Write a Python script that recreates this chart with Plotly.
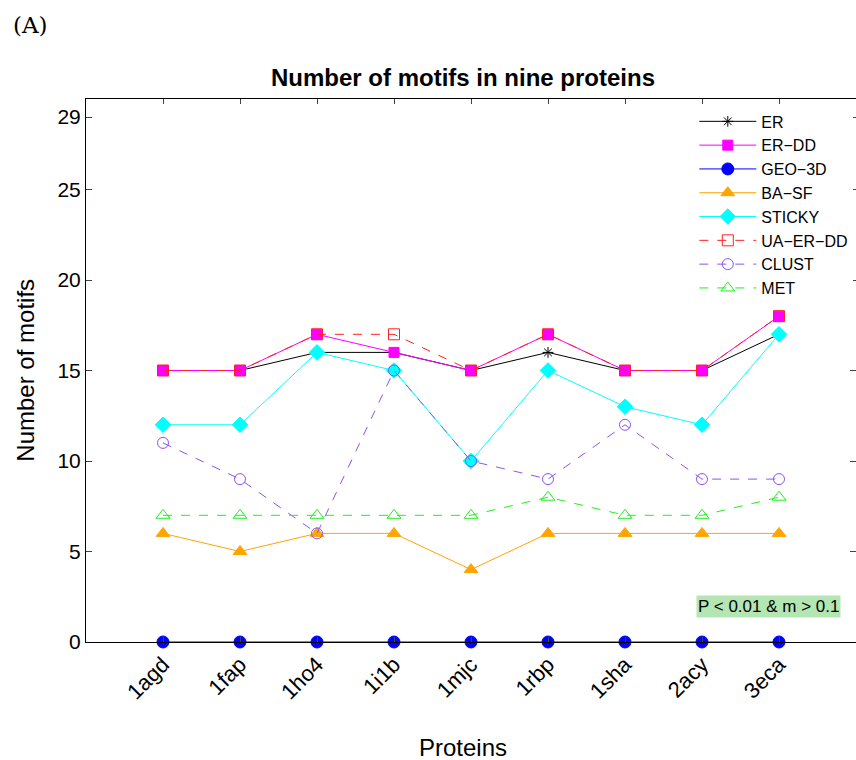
import plotly.graph_objects as go

proteins = ["1agd", "1fap", "1ho4", "1i1b", "1mjc", "1rbp", "1sha", "2acy", "3eca"]
er = [15, 15, 16, 16, 15, 16, 15, 15, 17]
er_dd = [15, 15, 17, 16, 15, 17, 15, 15, 18]
geo_3d = [0, 0, 0, 0, 0, 0, 0, 0, 0]
ba_sf = [6, 5, 6, 6, 4, 6, 6, 6, 6]
sticky = [12, 12, 16, 15, 10, 15, 13, 12, 17]
ua_er_dd = [15, 15, 17, 17, 15, 17, 15, 15, 18]
clust = [11, 9, 6, 15, 10, 9, 12, 9, 9]
met = [7, 7, 7, 7, 7, 8, 7, 7, 8]
y_ticks = [0, 5, 10, 15, 20, 25, 29]

series = [
    ("ER", er, "#000000", "solid", "asterisk-open", 9),
    ("ER\u2212DD", er_dd, "#ff00ff", "solid", "square", 10),
    ("GEO\u22123D", geo_3d, "#0000ff", "solid", "circle", 12),
    ("BA\u2212SF", ba_sf, "#ffa500", "solid", "triangle-up", 12),
    ("STICKY", sticky, "#00ffff", "solid", "diamond", 12),
    ("UA\u2212ER\u2212DD", ua_er_dd, "#ff2020", "dash", "square-open", 11),
    ("CLUST", clust, "#8a55ee", "dash", "circle-open", 11),
    ("MET", met, "#22ee22", "dash", "triangle-up-open", 12),
]

fig = go.Figure()
for name, vals, color, dash, sym, size in series:
    fig.add_trace(go.Scatter(
        x=proteins, y=vals, name=name, mode="lines+markers", cliponaxis=False,
        line=dict(color=color, width=1, dash=dash),
        marker=dict(symbol=sym, size=size, color=color,
                    line=dict(color=color, width=1)),
    ))

font_family = "Liberation Sans, Arial, sans-serif"
fig.update_layout(
    width=856, height=760,
    margin=dict(l=86, r=0, t=99, b=118),
    paper_bgcolor="white", plot_bgcolor="white",
    font=dict(family=font_family, color="black"),
    showlegend=True,
    legend=dict(x=0.79, y=0.99, xanchor="left", yanchor="top",
                bgcolor="rgba(255,255,255,1)", borderwidth=0,
                font=dict(size=16), itemwidth=57, tracegroupgap=0),
    xaxis=dict(type="category", range=[-1, 9], showline=True, linecolor="black",
               linewidth=1, mirror="ticks", ticks="inside", ticklen=5,
               tickcolor="#444", tickangle=-45, tickfont=dict(size=22),
               showgrid=False, zeroline=False),
    yaxis=dict(range=[0, 30], tickvals=y_ticks, showline=True, linecolor="black",
               linewidth=1, mirror="ticks", ticks="inside", ticklen=6,
               tickcolor="#444", tickfont=dict(size=21), showgrid=False,
               zeroline=False),
    annotations=[
        dict(text="<b>Number of motifs in nine proteins</b>", xref="paper", yref="paper",
             x=0.49, y=1.039, xanchor="center", yanchor="middle", showarrow=False,
             font=dict(size=24)),
        dict(text="(A)", xref="paper", yref="paper", x=-0.097, y=1.136,
             xanchor="left", yanchor="middle", showarrow=False,
             font=dict(family="DejaVu Serif, Liberation Serif, serif", size=23)),
        dict(text="Proteins", xref="paper", yref="paper", x=0.49, y=-0.195,
             xanchor="center", yanchor="middle", showarrow=False,
             font=dict(size=24)),
        dict(text="Number of motifs", xref="paper", yref="paper", x=-0.079, y=0.5,
             xanchor="center", yanchor="middle", showarrow=False, textangle=-90,
             font=dict(size=24)),
        dict(text="P &lt; 0.01 &amp; m &gt; 0.1", xref="paper", yref="paper",
             x=0.886, y=0.066, xanchor="center", yanchor="middle", showarrow=False,
             bgcolor="#b3e6b3", borderpad=1, font=dict(size=17)),
    ],
)

fig.write_html("out.html")
